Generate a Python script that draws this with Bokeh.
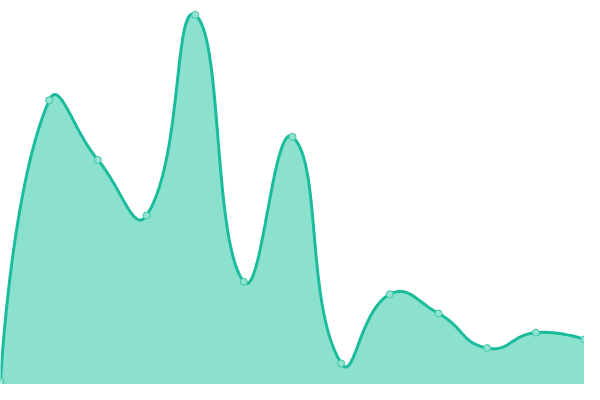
import numpy as np
from bokeh.plotting import figure
from bokeh.models import ColumnDataSource
from bokeh.embed import file_html
from bokeh.resources import INLINE

x_values = [0, 50, 100, 150, 200, 250, 300, 350, 400, 450, 500, 550, 600]
y_values = [3, 296, 234, 176, 385, 107, 258, 22, 94, 74, 38, 54, 47]

LINE = "#1abc9c"
FILL = "#8ce0ce"
SMOOTH = 0.5

def smooth_curve(xs, ys, smooth=SMOOTH, n=50):
    xs = np.asarray(xs, float)
    ys = np.asarray(ys, float)
    m = len(xs)
    cin = []   # control point before each point
    cout = []  # control point after each point
    for i in range(m):
        x, y = xs[i], ys[i]
        if i == 0 or i == m - 1:
            cin.append((x, y))
            cout.append((x, y))
            continue
        px, py = xs[i - 1], ys[i - 1]
        nx, ny = xs[i + 1], ys[i + 1]
        vx, vy = nx - px, ny - py
        l0 = np.hypot(x - px, y - py)
        l1 = np.hypot(nx - x, ny - y)
        r = l1 / (l0 + l1)
        cin.append((x - vx * smooth * (1 - r), y - vy * smooth * (1 - r)))
        cout.append((x + vx * smooth * r, y + vy * smooth * r))
    t = np.linspace(0, 1, n)
    a = (1 - t) ** 3
    b = 3 * (1 - t) ** 2 * t
    c = 3 * (1 - t) * t ** 2
    d = t ** 3
    ox, oy = [], []
    for i in range(m - 1):
        x0, y0 = xs[i], ys[i]
        x1, y1 = cout[i]
        x2, y2 = cin[i + 1]
        x3, y3 = xs[i + 1], ys[i + 1]
        ox.extend(a * x0 + b * x1 + c * x2 + d * x3)
        oy.extend(a * y0 + b * y1 + c * y2 + d * y3)
    return np.array(ox), np.array(oy)

cx, cy = smooth_curve(x_values, y_values)

p = figure(width=584, height=384, x_range=(0, 600), y_range=(0, 400),
           output_backend="svg", toolbar_location=None, min_border=0)
p.axis.visible = False
p.grid.visible = False
p.outline_line_color = None
p.background_fill_color = "white"
p.border_fill_color = "white"

curve = ColumnDataSource(dict(x=cx, y=cy, y0=np.zeros_like(cy)))
p.varea(x="x", y1="y0", y2="y", source=curve, fill_color=FILL, fill_alpha=1.0)
p.line(x="x", y="y", source=curve, line_color=LINE, line_width=3)

pts = ColumnDataSource(dict(x=x_values, y=y_values))
p.scatter(x="x", y="y", source=pts, size=7, fill_color="#93e3d2",
          line_color="#3cc6a8", line_width=1)

open("out.html", "w").write(file_html(p, INLINE))
